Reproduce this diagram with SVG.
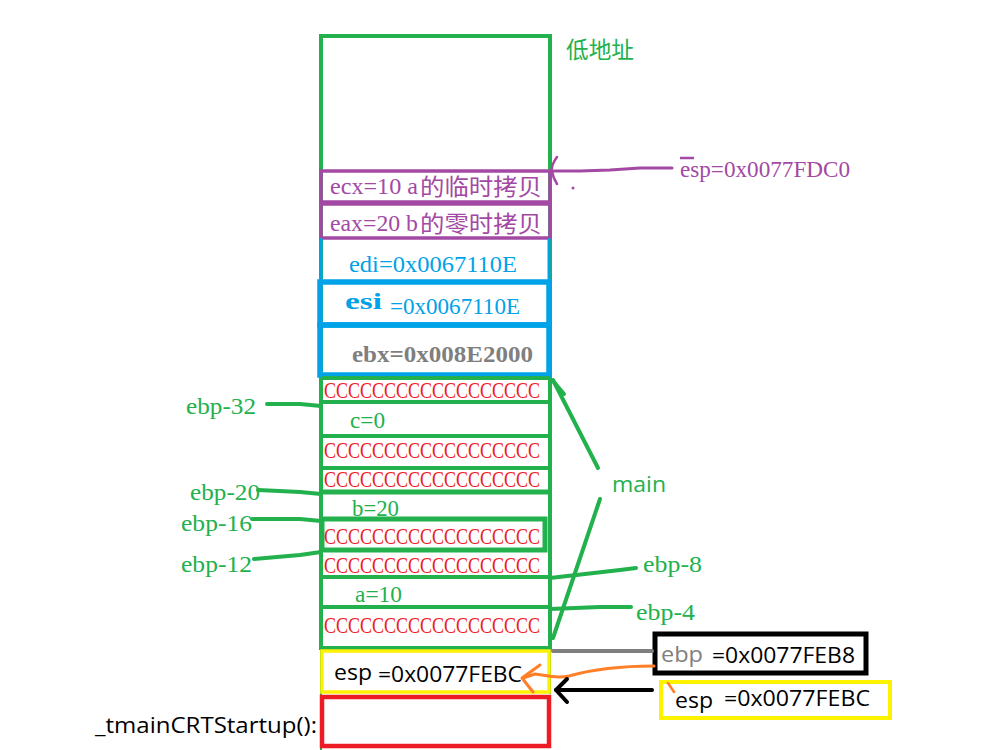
<svg xmlns="http://www.w3.org/2000/svg" width="984" height="750" viewBox="0 0 984 750">
<style>
.g{stroke:#22b14c;fill:none}
.mono{font-family:"Liberation Serif","DejaVu Serif",serif;font-size:24px}
.sans{font-family:"Open Sans","Noto Sans",sans-serif;font-size:22px}
.cjk{font-family:"Noto Sans CJK SC",sans-serif}
.gt{fill:#22b14c}
.red{fill:#ed1c24}
.pur{fill:#a349a4}
.blu{fill:#00a2e8}
</style>
<rect width="984" height="750" fill="#ffffff"/>
<g id="stack-frame">
  <rect x="321" y="36" width="229" height="612" class="g" stroke-width="4"/>
  <line x1="321" y1="648" x2="321" y2="750" class="g" stroke-width="2"/>
  <line x1="550" y1="648" x2="550" y2="694" class="g" stroke-width="2"/>
  <text x="566" y="58" class="cjk gt" font-size="23" textLength="68" lengthAdjust="spacingAndGlyphs">低地址</text>
</g>
<g id="ecx-row">
  <rect x="321" y="171" width="229" height="31" fill="none" stroke="#a349a4" stroke-width="3.5"/>
  <text x="330" y="194" class="mono pur" textLength="88" lengthAdjust="spacingAndGlyphs">ecx=10 a</text>
  <text x="420" y="195" class="cjk pur" font-size="23" textLength="122" lengthAdjust="spacingAndGlyphs">的临时拷贝</text>
</g>
<g id="eax-row">
  <rect x="321" y="204" width="229" height="34" fill="none" stroke="#a349a4" stroke-width="3.5"/>
  <text x="330" y="231" class="mono pur" textLength="88" lengthAdjust="spacingAndGlyphs">eax=20 b</text>
  <text x="420" y="232" class="cjk pur" font-size="23" textLength="122" lengthAdjust="spacingAndGlyphs">的零时拷贝</text>
</g>
<g id="edi-row">
  <line x1="321" y1="238" x2="321" y2="281" stroke="#00a2e8" stroke-width="3"/>
  <line x1="549" y1="238" x2="549" y2="281" stroke="#00a2e8" stroke-width="3"/>
  <text x="349" y="272" class="mono blu" textLength="168" lengthAdjust="spacingAndGlyphs">edi=0x0067110E</text>
</g>
<g id="esi-row">
  <rect x="320" y="282" width="229" height="43" fill="none" stroke="#00a2e8" stroke-width="5.5"/>
  <text x="345" y="309" class="mono blu" font-weight="bold" textLength="37" lengthAdjust="spacingAndGlyphs">esi</text>
  <text x="390" y="314" class="mono blu" textLength="130" lengthAdjust="spacingAndGlyphs">=0x0067110E</text>
</g>
<g id="ebx-row">
  <rect x="320" y="325" width="229" height="50" fill="none" stroke="#00a2e8" stroke-width="5.5"/>
  <text x="352" y="362" class="mono" fill="#7f7f7f" font-weight="bold" textLength="181" lengthAdjust="spacingAndGlyphs">ebx=0x008E2000</text>
</g>
<g id="local-rows">
  <g class="g" stroke-width="4">
    <line x1="321" y1="378" x2="550" y2="378"/>
    <line x1="321" y1="402" x2="550" y2="402"/>
    <line x1="321" y1="436" x2="550" y2="436"/>
    <line x1="321" y1="468" x2="550" y2="468"/>
    <line x1="321" y1="492" x2="550" y2="492" stroke-width="5"/>
    <rect x="322" y="519" width="223" height="31" stroke-width="5"/>
    <line x1="321" y1="577" x2="550" y2="577"/>
    <line x1="321" y1="607" x2="550" y2="607"/>
  </g>
  <g class="mono red">
    <text x="324" y="398" textLength="216" lengthAdjust="spacingAndGlyphs">CCCCCCCCCCCCCCCCCC</text>
    <text x="324" y="458" textLength="216" lengthAdjust="spacingAndGlyphs">CCCCCCCCCCCCCCCCCC</text>
    <text x="324" y="487" textLength="216" lengthAdjust="spacingAndGlyphs">CCCCCCCCCCCCCCCCCC</text>
    <text x="324" y="544" textLength="216" lengthAdjust="spacingAndGlyphs">CCCCCCCCCCCCCCCCCC</text>
    <text x="324" y="573" textLength="216" lengthAdjust="spacingAndGlyphs">CCCCCCCCCCCCCCCCCC</text>
    <text x="324" y="633" textLength="216" lengthAdjust="spacingAndGlyphs">CCCCCCCCCCCCCCCCCC</text>
  </g>
  <g class="mono gt">
    <text x="350" y="428" textLength="35" lengthAdjust="spacingAndGlyphs">c=0</text>
    <text x="352" y="516" textLength="47" lengthAdjust="spacingAndGlyphs">b=20</text>
    <text x="355" y="602" textLength="47" lengthAdjust="spacingAndGlyphs">a=10</text>
  </g>
</g>
<g id="offset-labels" class="mono gt">
  <text x="186" y="414" textLength="70" lengthAdjust="spacingAndGlyphs">ebp-32</text>
  <text x="190" y="500" textLength="70" lengthAdjust="spacingAndGlyphs">ebp-20</text>
  <text x="181" y="531" textLength="71" lengthAdjust="spacingAndGlyphs">ebp-16</text>
  <text x="181" y="572" textLength="71" lengthAdjust="spacingAndGlyphs">ebp-12</text>
  <text x="643" y="572" textLength="59" lengthAdjust="spacingAndGlyphs">ebp-8</text>
  <text x="636" y="620" textLength="59" lengthAdjust="spacingAndGlyphs">ebp-4</text>
</g>
<g id="main-label">
  <text x="612" y="492" class="sans gt" textLength="54" lengthAdjust="spacingAndGlyphs">main</text>
</g>
<g id="esp-top-label">
  <text x="680" y="177" class="mono pur" textLength="170" lengthAdjust="spacingAndGlyphs">esp=0x0077FDC0</text>
  <line x1="680" y1="158" x2="694" y2="158" stroke="#a349a4" stroke-width="2.5"/>
</g>
<g id="ret-slot">
  <rect x="322" y="651" width="227" height="41" fill="none" stroke="#fff200" stroke-width="3.5"/>
  <text x="334" y="680" class="sans" fill="#000" textLength="38" lengthAdjust="spacingAndGlyphs">esp</text>
  <text x="378" y="682" class="sans" fill="#000" textLength="144" lengthAdjust="spacingAndGlyphs">=0x0077FEBC</text>
</g>
<g id="caller-frame">
  <rect x="322" y="697" width="227" height="49" fill="none" stroke="#ed1c24" stroke-width="4.5"/>
  <text x="95" y="733" class="sans" fill="#000" textLength="222" lengthAdjust="spacingAndGlyphs">_tmainCRTStartup():</text>
</g>
<g id="ebp-box">
  <rect x="655" y="634" width="211" height="39" fill="none" stroke="#000" stroke-width="5"/>
  <text x="661" y="662" class="sans" fill="#7f7f7f" textLength="42" lengthAdjust="spacingAndGlyphs">ebp</text>
  <text x="712" y="663" class="sans" fill="#000" textLength="143" lengthAdjust="spacingAndGlyphs">=0x0077FEB8</text>
</g>
<g id="esp-box">
  <rect x="661" y="682" width="229" height="36" fill="none" stroke="#fff200" stroke-width="4"/>
  <text x="675" y="708" class="sans" fill="#000" textLength="38" lengthAdjust="spacingAndGlyphs">esp</text>
  <text x="724" y="706" class="sans" fill="#000" textLength="146" lengthAdjust="spacingAndGlyphs">=0x0077FEBC</text>
</g>
<g id="connectors" fill="none" stroke-linecap="round" stroke-linejoin="round">
  <g stroke="#22b14c" stroke-width="4">
    <polyline points="267,404 300,404 321,406"/>
    <polyline points="258,490 300,492 321,494"/>
    <polyline points="252,519 300,519 321,521"/>
    <polyline points="254,559 300,555 321,552"/>
    <polyline points="550,578 620,570 636,568"/>
    <polyline points="550,609 600,607 631,607"/>
    <line x1="598" y1="468" x2="553" y2="380"/>
    <line x1="553" y1="381" x2="564" y2="394"/>
    <line x1="600" y1="499" x2="553" y2="638"/>
  </g>
  <polyline points="554,171 580,171 610,170 640,168 672,168" stroke="#a349a4" stroke-width="3"/>
  <path d="M557,157 Q551,165 552,171 Q553,178 557,184" stroke="#a349a4" stroke-width="2.5"/>
  <circle cx="573" cy="188" r="1.5" fill="#a349a4" stroke="none"/>
  <line x1="553" y1="651" x2="652" y2="651" stroke="#7f7f7f" stroke-width="4"/>
  <path d="M654,666 C620,666 590,670 569,676 C555,679 545,675 535,674 L523,678" stroke="#ff7f27" stroke-width="3"/>
  <polyline points="540,665 522,678 533,692" stroke="#ff7f27" stroke-width="3"/>
  <line x1="668" y1="683" x2="674" y2="692" stroke="#ff7f27" stroke-width="2.5"/>
  <line x1="652" y1="690" x2="556" y2="690" stroke="#000" stroke-width="4"/>
  <polyline points="567,679 556,690 567,702" stroke="#000" stroke-width="4"/>
</g>
</svg>
